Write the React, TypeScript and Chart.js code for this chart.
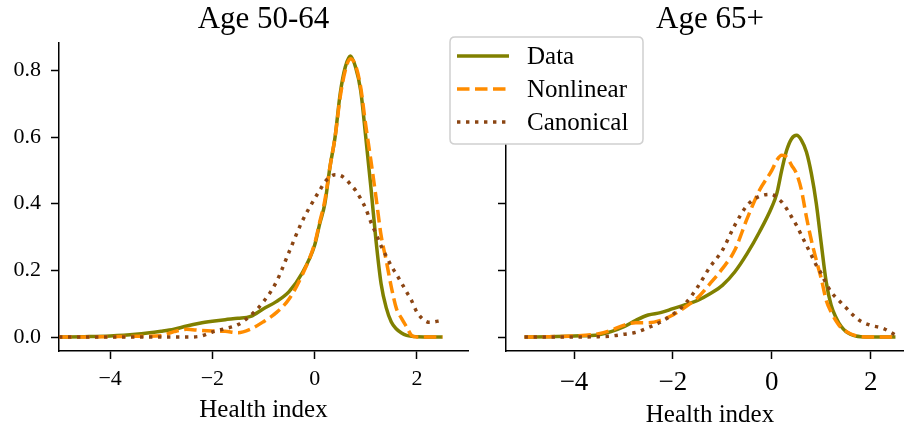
import React, { useEffect, useRef } from "react";
import { Chart, registerables } from "chart.js";

Chart.register(...registerables);

// ---------- data ----------
const seriesNames = ["Data", "Nonlinear", "Canonical"];
const panelTitles = ["Age 50-64", "Age 65+"];
const xAxisLabel = "Health index";
const xTickValues = [-4, -2, 0, 2];
const yTickValues = [0, 0.2, 0.4, 0.6, 0.8];

const xLeft = [-5, -4.5, -4, -3.5, -3, -2.75, -2.5, -2.25, -2, -1.75, -1.5, -1.25, -1, -0.75, -0.5, -0.25, 0, 0.1, 0.2, 0.3, 0.4, 0.5, 0.6, 0.7, 0.8, 0.9, 1.0, 1.1, 1.2, 1.3, 1.4, 1.5, 1.6, 1.7, 1.8, 1.9, 2.0, 2.25, 2.5];
const dataLeft = [0, 0.001, 0.003, 0.008, 0.017, 0.023, 0.033, 0.041, 0.047, 0.052, 0.056, 0.062, 0.085, 0.106, 0.136, 0.19, 0.275, 0.34, 0.40, 0.51, 0.60, 0.73, 0.81, 0.843, 0.81, 0.74, 0.60, 0.45, 0.29, 0.16, 0.088, 0.045, 0.024, 0.012, 0.005, 0.002, 0.001, 0, 0];
const nonlinearLeft = [0, 0, 0.001, 0.002, 0.004, 0.016, 0.023, 0.02, 0.018, 0.017, 0.013, 0.024, 0.046, 0.073, 0.114, 0.184, 0.28, 0.345, 0.41, 0.51, 0.60, 0.72, 0.80, 0.835, 0.815, 0.75, 0.635, 0.53, 0.42, 0.305, 0.23, 0.15, 0.085, 0.056, 0.03, 0.004, 0, 0, 0];
const canonicalLeft = [0, 0, 0, 0, 0, 0, 0, 0.002, 0.015, 0.025, 0.037, 0.065, 0.106, 0.165, 0.255, 0.345, 0.415, 0.44, 0.465, 0.48, 0.487, 0.485, 0.475, 0.458, 0.44, 0.415, 0.385, 0.345, 0.31, 0.273, 0.243, 0.213, 0.188, 0.162, 0.135, 0.108, 0.075, 0.044, 0.05];

const xRight = [-5, -4.5, -4, -3.5, -3.25, -3, -2.75, -2.5, -2.25, -2, -1.75, -1.5, -1.25, -1, -0.75, -0.5, -0.25, 0, 0.1, 0.2, 0.3, 0.4, 0.5, 0.6, 0.7, 0.8, 0.9, 1.0, 1.1, 1.2, 1.3, 1.4, 1.5, 1.6, 1.7, 1.8, 2.0, 2.25, 2.5];
const dataRight = [0, 0.001, 0.003, 0.007, 0.016, 0.03, 0.05, 0.066, 0.073, 0.085, 0.097, 0.11, 0.13, 0.155, 0.195, 0.25, 0.315, 0.39, 0.43, 0.50, 0.56, 0.595, 0.605, 0.59, 0.555, 0.49, 0.40, 0.28, 0.165, 0.095, 0.058, 0.032, 0.016, 0.008, 0.003, 0.001, 0, 0, 0];
const nonlinearRight = [0, 0.001, 0.003, 0.01, 0.02, 0.035, 0.043, 0.043, 0.05, 0.066, 0.09, 0.118, 0.16, 0.205, 0.26, 0.355, 0.44, 0.50, 0.53, 0.545, 0.54, 0.515, 0.49, 0.44, 0.36, 0.29, 0.23, 0.175, 0.11, 0.075, 0.048, 0.028, 0.017, 0.009, 0.004, 0.001, 0, 0, 0];
const canonicalRight = [0, 0, 0, 0.001, 0.003, 0.008, 0.014, 0.028, 0.045, 0.068, 0.1, 0.15, 0.21, 0.26, 0.335, 0.395, 0.422, 0.428, 0.418, 0.405, 0.385, 0.36, 0.335, 0.305, 0.275, 0.245, 0.215, 0.19, 0.16, 0.135, 0.118, 0.103, 0.088, 0.072, 0.058, 0.047, 0.035, 0.026, 0.006];

// ---------- styling ----------
const COLORS = ["#808000", "#ff8c00", "#8b4513"];
const DASHES: number[][] = [[], [12.5, 5.5], [3.4, 5.6]];
const LINE_W = 3.5;
const FONT = "'Liberation Serif', 'Times New Roman', serif";
const BLACK = "#000000";

const fmtX = (v: number) => (v < 0 ? "\u2212" + Math.abs(v) : String(v));

function makeDatasets(xs: number[], series: number[][]) {
  return series.map((ys, i) => ({
    label: seriesNames[i],
    data: xs.map((x, j) => ({ x, y: ys[j] })),
    borderColor: COLORS[i],
    backgroundColor: COLORS[i],
    borderWidth: LINE_W,
    borderDash: DASHES[i],
    borderCapStyle: "butt",
    pointRadius: 0,
    fill: false,
    cubicInterpolationMode: "monotone",
    order: 3 - i,
  }));
}

function titlePlugin(text: string) {
  return {
    id: "panelTitle",
    afterDraw(chart: any) {
      const { ctx, chartArea } = chart;
      ctx.save();
      ctx.font = `31px ${FONT}`;
      ctx.fillStyle = BLACK;
      ctx.textAlign = "center";
      ctx.textBaseline = "alphabetic";
      ctx.fillText(text, (chartArea.left + chartArea.right) / 2, 28);
      ctx.restore();
    },
  };
}

const legendPlugin = {
  id: "boxLegend",
  afterDraw(chart: any) {
    const ctx = chart.ctx;
    const x0 = 10, y0 = 37, w = 193, h = 107, r = 5;
    ctx.save();
    ctx.beginPath();
    ctx.moveTo(x0 + r, y0);
    ctx.lineTo(x0 + w - r, y0);
    ctx.quadraticCurveTo(x0 + w, y0, x0 + w, y0 + r);
    ctx.lineTo(x0 + w, y0 + h - r);
    ctx.quadraticCurveTo(x0 + w, y0 + h, x0 + w - r, y0 + h);
    ctx.lineTo(x0 + r, y0 + h);
    ctx.quadraticCurveTo(x0, y0 + h, x0, y0 + h - r);
    ctx.lineTo(x0, y0 + r);
    ctx.quadraticCurveTo(x0, y0, x0 + r, y0);
    ctx.closePath();
    ctx.fillStyle = "#ffffff";
    ctx.fill();
    ctx.strokeStyle = "#d0d0d0";
    ctx.lineWidth = 1.5;
    ctx.stroke();
    seriesNames.forEach((name, i) => {
      const y = 56 + i * 33;
      ctx.strokeStyle = COLORS[i];
      ctx.lineWidth = LINE_W;
      ctx.lineCap = "butt";
      ctx.setLineDash(DASHES[i]);
      ctx.beginPath();
      ctx.moveTo(17, y);
      ctx.lineTo(69, y);
      ctx.stroke();
      ctx.setLineDash([]);
      ctx.fillStyle = BLACK;
      ctx.font = `25px ${FONT}`;
      ctx.textAlign = "left";
      ctx.textBaseline = "middle";
      ctx.fillText(name, 87, y + 1);
    });
    ctx.restore();
  },
};

function makeConfig(opts: {
  xs: number[];
  series: number[][];
  xMin: number;
  xMax: number;
  yAxisWidth: number;
  showYLabels: boolean;
  tickFont: number;
  tickPad: number;
  titlePadBottom: number;
  title: string;
  padRight: number;
  extraPlugins: any[];
}) {
  const gridOpts = {
    display: true,
    drawOnChartArea: false,
    drawTicks: true,
    tickLength: 8,
    tickWidth: 1.5,
    tickColor: BLACK,
  };
  const borderOpts = { display: true, color: BLACK, width: 1.5 };
  return {
    type: "line",
    data: { datasets: makeDatasets(opts.xs, opts.series) },
    options: {
      animation: false,
      responsive: false,
      maintainAspectRatio: false,
      devicePixelRatio: 1,
      layout: { padding: { top: 43, left: 0, right: opts.padRight, bottom: 0 } },
      plugins: { legend: { display: false }, tooltip: { enabled: false }, title: { display: false } },
      scales: {
        x: {
          type: "linear",
          min: opts.xMin,
          max: opts.xMax,
          afterBuildTicks: (s: any) => {
            s.ticks = xTickValues.map((v) => ({ value: v }));
          },
          afterFit: (s: any) => {
            s.height = 79;
          },
          grid: gridOpts,
          border: borderOpts,
          ticks: {
            color: BLACK,
            font: { family: FONT, size: opts.tickFont },
            padding: opts.tickPad,
            maxRotation: 0,
            autoSkip: false,
            callback: (v: number) => fmtX(v),
          },
          title: {
            display: true,
            text: xAxisLabel,
            color: BLACK,
            font: { family: FONT, size: 25 },
            padding: { top: 0, bottom: opts.titlePadBottom },
          },
        },
        y: {
          type: "linear",
          min: -0.042,
          max: 0.882,
          afterBuildTicks: (s: any) => {
            s.ticks = yTickValues.map((v) => ({ value: v }));
          },
          afterFit: (s: any) => {
            s.width = opts.yAxisWidth;
          },
          grid: gridOpts,
          border: borderOpts,
          ticks: {
            color: BLACK,
            font: { family: FONT, size: 22 },
            padding: 10,
            callback: (v: number) => (opts.showYLabels ? v.toFixed(1) : ""),
          },
        },
      },
    },
    plugins: [titlePlugin(opts.title), ...opts.extraPlugins],
  };
}

export default function App() {
  const leftRef = useRef<HTMLCanvasElement>(null);
  const rightRef = useRef<HTMLCanvasElement>(null);

  useEffect(() => {
    const left = new Chart(
      leftRef.current as HTMLCanvasElement,
      makeConfig({
        xs: xLeft,
        series: [dataLeft, nonlinearLeft, canonicalLeft],
        xMin: -5,
        xMax: 3,
        yAxisWidth: 59,
        showYLabels: true,
        tickFont: 22,
        tickPad: 7,
        titlePadBottom: 5,
        title: panelTitles[0],
        padRight: 2,
        extraPlugins: [],
      }) as any
    );
    const right = new Chart(
      rightRef.current as HTMLCanvasElement,
      makeConfig({
        xs: xRight,
        series: [dataRight, nonlinearRight, canonicalRight],
        xMin: -5.375,
        xMax: 2.875,
        yAxisWidth: 66,
        showYLabels: false,
        tickFont: 27,
        tickPad: 8,
        titlePadBottom: 0,
        title: panelTitles[1],
        padRight: 0,
        extraPlugins: [legendPlugin],
      }) as any
    );
    return () => {
      left.destroy();
      right.destroy();
    };
  }, []);

  return (
    <div
      style={{
        position: "absolute",
        left: 0,
        top: 0,
        width: 904,
        height: 430,
        overflow: "hidden",
        background: "#ffffff",
      }}
    >
      <canvas
        ref={leftRef}
        width={470}
        height={430}
        style={{ position: "absolute", left: 0, top: 0, width: 470, height: 430 }}
      />
      <canvas
        ref={rightRef}
        width={474}
        height={430}
        style={{ position: "absolute", left: 440, top: 0, width: 474, height: 430 }}
      />
    </div>
  );
}
